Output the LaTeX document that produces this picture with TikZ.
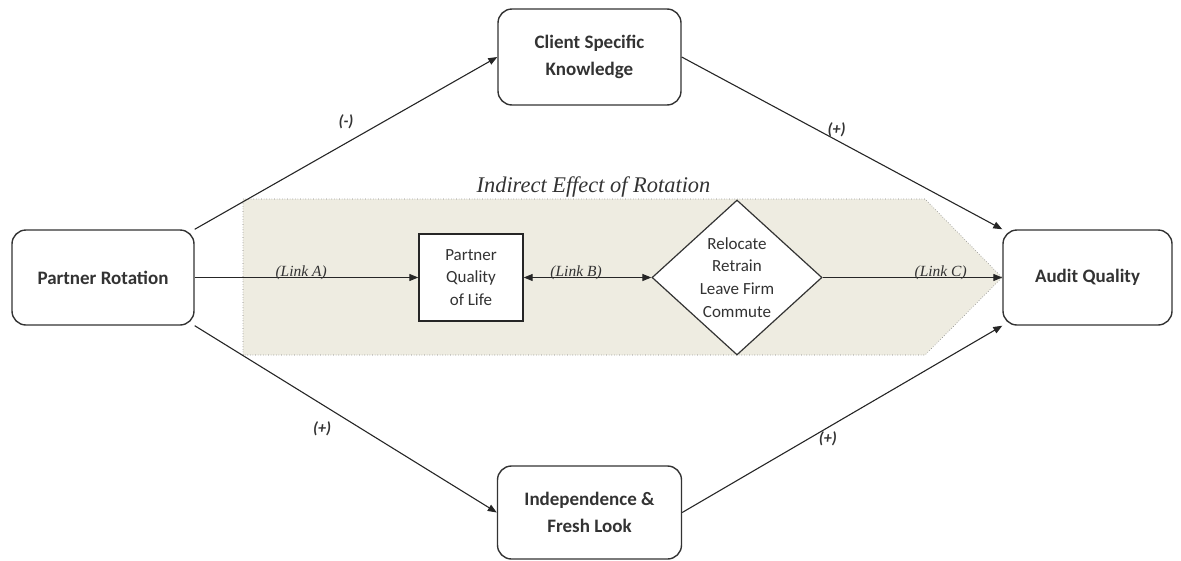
\documentclass[tikz,border=0pt]{standalone}
\usepackage{fontspec}
\setmainfont{Carlito}
\newfontfamily\tnr{Liberation Serif}
\usetikzlibrary{arrows.meta,shapes.geometric}
\definecolor{shade}{HTML}{EEECE1}
\definecolor{ink}{HTML}{333333}
\begin{document}
\begin{tikzpicture}[x=1pt,y=-1pt,
 box/.style={draw=ink, line width=1.4pt, rounded corners=14pt, fill=white, font=\fontsize{19}{27}\selectfont\bfseries, text=ink, align=center, inner sep=0pt},
 conn/.style={draw=black!85, line width=1.1pt, -{Triangle[length=9pt,width=7pt]}},
 sign/.style={font=\fontsize{16}{18}\selectfont\bfseries\itshape, text=ink},
 link/.style={font=\tnr\fontsize{15.5}{17}\selectfont\itshape, text=ink, anchor=base, inner sep=0pt}
]
\useasboundingbox (0,0) rectangle (1181,560);

\path[fill=shade, draw=gray, dotted, line width=0.6pt] (243,199) -- (925,199) -- (1002,277.5) -- (925,355) -- (243,355) -- cycle;

\node[font=\tnr\fontsize{22.4}{26}\selectfont\itshape, text=ink, anchor=base] (title) at (593.5,192) {Indirect Effect of Rotation};

\node[box, minimum width=182pt, minimum height=95pt] (pr) at (103,277.5) {Partner Rotation};
\node[box, minimum width=183pt, minimum height=96pt] (csk) at (589.5,57) {Client Specific\\Knowledge};
\node[box, minimum width=184pt, minimum height=93pt] (ind) at (589.5,512.5) {Independence \&\\Fresh Look};
\node[box, minimum width=169pt, minimum height=95pt] (aq) at (1087.5,277.5) {Audit Quality};
\node[draw=black!85, line width=1.4pt, fill=white, minimum width=104pt, minimum height=87pt, inner sep=0pt, align=center, font=\fontsize{17}{22.5}\selectfont, text=ink] (pql) at (471,277.5) {Partner\\Quality\\of Life};
\node[diamond, draw=ink, line width=1.2pt, fill=white, minimum width=170pt, minimum height=155pt, inner sep=0pt, aspect=1.1, align=center, font=\fontsize{17}{22.7}\selectfont, text=ink] (dia) at (737,277.5) {Relocate\\Retrain\\Leave Firm\\Commute};

\draw[conn] (pr.north east) -- (csk.west) node[sign, pos=0.5, yshift=21pt] {(-)};
\draw[conn] (csk.east) -- (aq.north west) node[sign, pos=0.483, yshift=10pt] {(+)};
\draw[conn] (pr.south east) -- (ind.west) node[sign, pos=0.422, yshift=-24pt] {(+)};
\draw[conn] (ind.east) -- (aq.south west) node[sign, pos=0.455, yshift=-11pt] {(+)};
\draw[conn] (pr.east) -- (pql.west) node[link, pos=0.476, yshift=1pt] {(Link A)};
\draw[conn, {Triangle[length=9pt,width=7pt]}-{Triangle[length=9pt,width=7pt]}] (pql.east) -- (dia.west) node[link, pos=0.41, yshift=1pt] {(Link B)};
\draw[conn] (dia.east) -- (aq.west) node[link, pos=0.657, yshift=1pt] {(Link C)};
\end{tikzpicture}
\end{document}
